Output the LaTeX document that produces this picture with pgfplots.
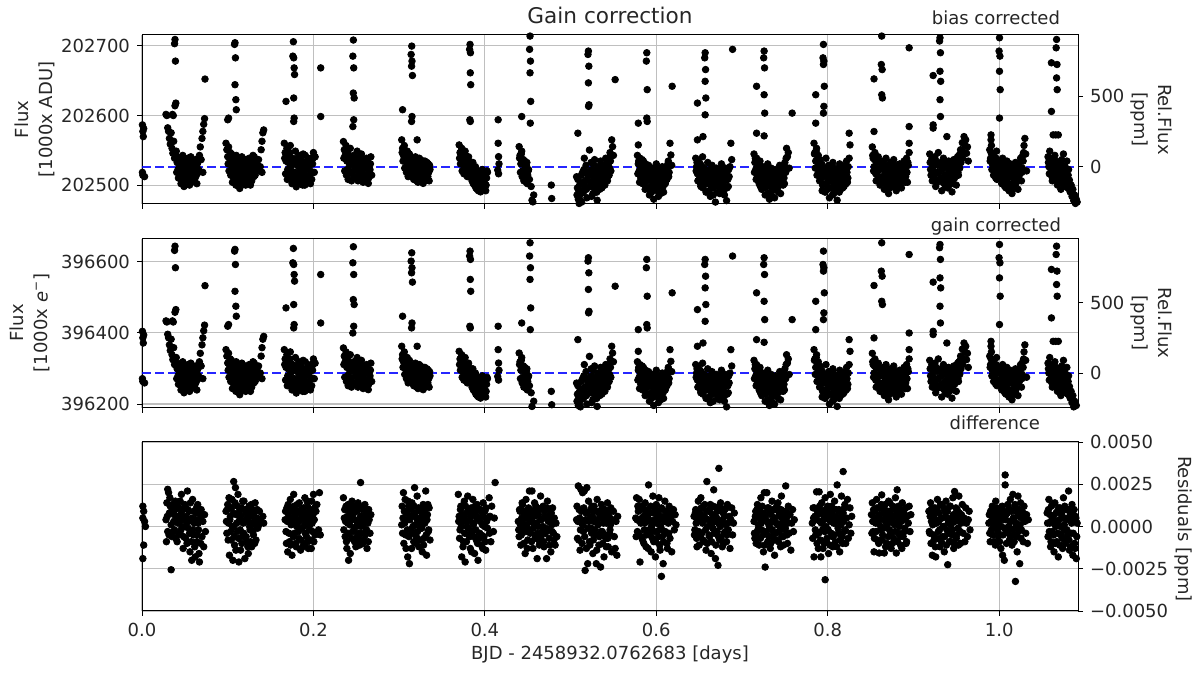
\documentclass[border=0pt]{standalone}
\usepackage{fontspec}
\setmainfont{DejaVu Sans}
\usepackage{pgfplots}
\usepackage{pgfplotstable}
\pgfplotsset{compat=1.18}

% relative flux in ppm (same light curve shown in the two upper panels)
\pgfplotstableread[row sep=\\]{
x y\\
0.0005 296\\ 0.001 250\\ 0.0015 213\\ 0.002 270\\ 0.001 -60\\ 0.003 -70\\ 0.0005 -40\\
0.0385 900\\ 0.0380 870\\ 0.0390 747\\ 0.0395 450\\ 0.0385 431\\ 0.0355 370\\ 0.0365 362\\
0.028 370\\ 0.029 362\\ 0.030 275\\ 0.031 250\\ 0.032 200\\ 0.034 240\\ 0.033 160\\ 0.035 130\\ 0.036 95\\ 0.037 180\\ 0.038 60\\
0.040 110\\ 0.041 30\\ 0.042 -20\\ 0.043 60\\ 0.044 -60\\ 0.045 20\\ 0.046 -100\\ 0.047 40\\ 0.048 -10\\ 0.049 -140\\ 0.050 0\\
0.051 -70\\ 0.052 50\\ 0.053 -30\\ 0.054 -90\\ 0.055 20\\ 0.056 -50\\ 0.057 70\\ 0.058 -110\\ 0.059 10\\ 0.060 -40\\ 0.061 40\\
0.062 -80\\ 0.063 0\\ 0.064 -120\\ 0.065 30\\ 0.066 -20\\ 0.067 80\\ 0.068 140\\ 0.069 50\\ 0.070 200\\ 0.071 250\\ 0.072 300\\
0.073 340\\ 0.0735 620\\ 0.071 -40\\
0.1085 877\\ 0.1080 865\\ 0.1090 770\\ 0.1085 580\\ 0.1095 474\\ 0.1100 403\\ 0.1010 344\\ 0.1000 332\\
0.098 166\\ 0.099 120\\ 0.100 71\\ 0.101 140\\ 0.103 100\\ 0.104 40\\ 0.105 -20\\ 0.106 60\\ 0.107 -80\\ 0.108 10\\ 0.109 -40\\
0.110 80\\ 0.111 -110\\ 0.112 -20\\ 0.113 30\\ 0.114 -154\\ 0.115 -60\\ 0.116 20\\ 0.117 -90\\ 0.118 50\\ 0.119 -30\\ 0.120 0\\
0.121 -130\\ 0.122 40\\ 0.123 -70\\ 0.124 -10\\ 0.125 60\\ 0.126 -50\\ 0.127 10\\ 0.128 -100\\ 0.129 30\\ 0.130 -20\\ 0.131 70\\
0.132 -60\\ 0.134 20\\ 0.135 -30\\ 0.136 50\\ 0.138 0\\ 0.139 120\\ 0.140 180\\ 0.141 240\\ 0.142 260\\ 0.140 -40\\
0.1766 884\\ 0.1760 782\\ 0.1770 770\\ 0.1775 699\\ 0.1780 652\\ 0.1770 486\\ 0.1775 344\\ 0.1770 320\\ 0.1680 462\\
0.166 166\\ 0.167 100\\ 0.168 40\\ 0.169 130\\ 0.170 -20\\ 0.171 70\\ 0.172 -80\\ 0.173 150\\ 0.174 0\\ 0.175 -120\\ 0.176 60\\
0.178 -40\\ 0.179 110\\ 0.180 -142\\ 0.181 20\\ 0.182 -60\\ 0.183 80\\ 0.184 -10\\ 0.185 -100\\ 0.186 40\\ 0.187 -50\\ 0.188 90\\
0.189 -20\\ 0.190 -130\\ 0.191 30\\ 0.192 -70\\ 0.193 10\\ 0.194 -110\\ 0.195 50\\ 0.196 -30\\ 0.197 60\\ 0.198 -90\\ 0.199 20\\
0.200 100\\ 0.201 -40\\ 0.202 70\\ 0.2085 699\\ 0.2085 355\\
0.2466 896\\ 0.2460 782\\ 0.2470 699\\ 0.2465 521\\ 0.2475 486\\ 0.2470 332\\ 0.2460 284\\
0.235 178\\ 0.236 120\\ 0.237 80\\ 0.238 150\\ 0.239 40\\ 0.240 100\\ 0.241 -10\\ 0.242 60\\ 0.243 130\\ 0.244 -40\\ 0.245 20\\
0.247 80\\ 0.248 -70\\ 0.249 30\\ 0.250 -20\\ 0.251 110\\ 0.252 -100\\ 0.253 0\\ 0.254 50\\ 0.255 -60\\ 0.256 90\\ 0.257 -30\\
0.258 -110\\ 0.259 40\\ 0.260 -80\\ 0.261 10\\ 0.262 60\\ 0.263 -50\\ 0.264 -118\\ 0.265 20\\ 0.266 -20\\ 0.267 70\\ 0.268 -60\\
0.3147 853\\ 0.3140 794\\ 0.3150 747\\ 0.3145 711\\ 0.3155 645\\ 0.3150 355\\ 0.3145 320\\ 0.3040 403\\
0.303 190\\ 0.304 130\\ 0.305 80\\ 0.306 150\\ 0.307 50\\ 0.308 100\\ 0.309 10\\ 0.310 60\\ 0.311 -30\\ 0.312 90\\ 0.313 20\\
0.314 -60\\ 0.316 40\\ 0.317 -90\\ 0.318 0\\ 0.319 70\\ 0.320 -40\\ 0.321 190\\ 0.322 -110\\ 0.323 30\\ 0.324 -20\\ 0.325 50\\
0.326 -70\\ 0.327 10\\ 0.328 -118\\ 0.329 -30\\ 0.330 40\\ 0.331 -80\\ 0.332 0\\ 0.333 -50\\ 0.334 20\\ 0.335 -100\\ 0.336 -20\\
0.3827 865\\ 0.3822 830\\ 0.3832 806\\ 0.3830 664\\ 0.3835 580\\ 0.3825 332\\ 0.3830 320\\
0.370 154\\ 0.371 100\\ 0.372 60\\ 0.373 130\\ 0.374 20\\ 0.375 80\\ 0.376 0\\ 0.377 110\\ 0.378 -40\\ 0.379 40\\ 0.380 -20\\
0.381 70\\ 0.382 -70\\ 0.384 10\\ 0.385 -100\\ 0.386 30\\ 0.387 -50\\ 0.388 -130\\ 0.389 0\\ 0.390 -80\\ 0.391 -160\\ 0.392 -30\\
0.393 -110\\ 0.394 -60\\ 0.395 -178\\ 0.396 -90\\ 0.397 -20\\ 0.398 -140\\ 0.399 -60\\ 0.400 -120\\ 0.401 -170\\ 0.402 -80\\
0.403 -40\\ 0.4155 332\\ 0.4155 166\\ 0.4160 71\\ 0.4165 20\\ 0.4150 -24\\ 0.4160 -50\\
0.4527 924\\ 0.4522 830\\ 0.4532 747\\ 0.4527 664\\ 0.4535 462\\ 0.4530 308\\ 0.4430 355\\
0.440 142\\ 0.441 80\\ 0.442 20\\ 0.443 110\\ 0.444 -30\\ 0.445 50\\ 0.446 -80\\ 0.447 0\\ 0.448 -107\\ 0.449 30\\ 0.450 -60\\
0.451 -20\\ 0.452 -90\\ 0.454 -140\\ 0.455 -237\\ 0.456 -249\\ 0.457 -200\\ 0.4775 -130\\ 0.4780 -225\\
0.5208 818\\ 0.5203 794\\ 0.5213 711\\ 0.5208 593\\ 0.5215 438\\ 0.5210 427\\ 0.5085 237\\ 0.552 616\\
0.507 -71\\ 0.508 -150\\ 0.509 -230\\ 0.510 -260\\ 0.511 -200\\ 0.512 -120\\ 0.513 -250\\ 0.514 -40\\ 0.515 -180\\ 0.516 60\\
0.517 -100\\ 0.518 10\\ 0.519 -220\\ 0.520 -60\\ 0.522 118\\ 0.523 -140\\ 0.524 30\\ 0.525 -20\\ 0.526 -190\\ 0.527 -80\\
0.528 50\\ 0.529 -120\\ 0.530 -30\\ 0.531 -237\\ 0.532 0\\ 0.533 -90\\ 0.534 -160\\ 0.535 40\\ 0.536 -50\\ 0.537 -110\\ 0.538 10\\
0.539 -70\\ 0.540 -130\\ 0.541 60\\ 0.542 -20\\ 0.543 -100\\ 0.544 20\\ 0.545 -60\\ 0.546 100\\ 0.547 -30\\ 0.548 190\\ 0.549 142\\
0.550 80\\
0.5889 806\\ 0.5884 747\\ 0.5894 545\\ 0.5889 344\\ 0.5894 320\\ 0.5790 308\\ 0.5790 154\\
0.578 80\\ 0.579 20\\ 0.580 -30\\ 0.581 60\\ 0.582 -80\\ 0.583 0\\ 0.584 -120\\ 0.585 40\\ 0.586 -60\\ 0.587 -160\\ 0.588 -20\\
0.590 -100\\ 0.591 10\\ 0.592 -200\\ 0.593 -50\\ 0.594 -140\\ 0.595 -10\\ 0.596 -90\\ 0.597 -230\\ 0.598 -40\\ 0.599 -120\\
0.600 20\\ 0.601 -170\\ 0.602 -70\\ 0.603 -20\\ 0.604 -110\\ 0.605 -190\\ 0.606 -50\\ 0.607 0\\ 0.608 -140\\ 0.609 -80\\
0.610 -30\\ 0.611 -100\\ 0.612 -60\\ 0.613 -10\\ 0.614 40\\ 0.615 -40\\ 0.616 166\\ 0.617 83\\ 0.618 10\\ 0.6185 569\\
0.6570 806\\ 0.6565 770\\ 0.6575 687\\ 0.6570 604\\ 0.6578 486\\ 0.6570 367\\ 0.6480 450\\ 0.6480 190\\ 0.6545 213\\
0.646 60\\ 0.647 0\\ 0.648 -50\\ 0.649 40\\ 0.650 -90\\ 0.651 20\\ 0.652 -140\\ 0.653 -30\\ 0.654 70\\ 0.655 -100\\ 0.656 -10\\
0.658 -180\\ 0.659 -60\\ 0.660 30\\ 0.661 -120\\ 0.662 -20\\ 0.663 -210\\ 0.664 -70\\ 0.665 10\\ 0.666 -150\\ 0.667 -40\\
0.668 -100\\ 0.669 -250\\ 0.670 -10\\ 0.671 -80\\ 0.672 -130\\ 0.673 -30\\ 0.674 -190\\ 0.675 -60\\ 0.676 20\\ 0.677 -110\\
0.678 -20\\ 0.679 -160\\ 0.680 -50\\ 0.681 -90\\ 0.682 -240\\ 0.683 -30\\ 0.684 -140\\ 0.685 -70\\ 0.686 0\\ 0.687 166\\
0.688 50\\ 0.689 830\\
0.7258 818\\ 0.7253 770\\ 0.7263 699\\ 0.7258 509\\ 0.7265 379\\ 0.7258 218\\ 0.7170 569\\ 0.7170 237\\
0.714 90\\ 0.715 30\\ 0.716 -20\\ 0.717 60\\ 0.718 -70\\ 0.719 10\\ 0.720 -120\\ 0.721 40\\ 0.722 -40\\ 0.723 -160\\ 0.724 0\\
0.726 -90\\ 0.727 -200\\ 0.728 -30\\ 0.729 -130\\ 0.730 20\\ 0.731 -60\\ 0.732 -230\\ 0.733 -100\\ 0.734 -10\\ 0.735 -170\\
0.736 -50\\ 0.737 -120\\ 0.738 -220\\ 0.739 -20\\ 0.740 -80\\ 0.741 -150\\ 0.742 -40\\ 0.743 -110\\ 0.744 10\\ 0.745 -190\\
0.746 -60\\ 0.747 -20\\ 0.748 -130\\ 0.749 -80\\ 0.750 30\\ 0.751 -40\\ 0.752 130\\ 0.753 71\\ 0.754 100\\ 0.755 -10\\ 0.7585 379\\
0.7950 865\\ 0.7945 770\\ 0.7955 747\\ 0.7950 723\\ 0.7960 569\\ 0.7955 427\\ 0.7950 379\\ 0.7860 509\\ 0.7860 308\\
0.784 166\\ 0.785 100\\ 0.786 40\\ 0.787 130\\ 0.788 0\\ 0.789 80\\ 0.790 -40\\ 0.791 50\\ 0.792 -90\\ 0.793 20\\ 0.794 -130\\
0.796 -20\\ 0.797 -180\\ 0.798 60\\ 0.799 -60\\ 0.800 -110\\ 0.801 10\\ 0.802 -220\\ 0.803 -40\\ 0.804 -150\\ 0.805 -80\\
0.806 30\\ 0.807 -190\\ 0.808 -10\\ 0.809 -120\\ 0.810 -60\\ 0.811 -237\\ 0.812 -20\\ 0.813 -100\\ 0.814 20\\ 0.815 -160\\
0.816 -50\\ 0.817 -90\\ 0.818 0\\ 0.819 -140\\ 0.820 -30\\ 0.821 -70\\ 0.822 40\\ 0.823 -110\\ 0.824 0\\ 0.825 237\\ 0.826 154\\
0.825 60\\
0.8630 924\\ 0.8625 723\\ 0.8635 687\\ 0.8630 509\\ 0.8638 486\\ 0.8540 621\\ 0.8540 249\\ 0.8950 841\\ 0.8950 284\\ 0.8950 166\\
0.852 140\\ 0.853 60\\ 0.854 0\\ 0.855 100\\ 0.856 -50\\ 0.857 30\\ 0.858 -90\\ 0.859 70\\ 0.860 -20\\ 0.861 -130\\ 0.862 20\\
0.864 -70\\ 0.865 40\\ 0.866 -160\\ 0.867 -30\\ 0.868 60\\ 0.869 -110\\ 0.870 0\\ 0.871 -190\\ 0.872 -50\\ 0.873 30\\ 0.874 -140\\
0.875 -10\\ 0.876 -80\\ 0.877 50\\ 0.878 -120\\ 0.879 -30\\ 0.880 -170\\ 0.881 10\\ 0.882 -60\\ 0.883 -100\\ 0.884 20\\
0.885 -40\\ 0.886 -150\\ 0.887 0\\ 0.888 -90\\ 0.889 40\\ 0.890 -20\\ 0.891 -70\\ 0.892 60\\ 0.893 -110\\ 0.894 10\\ 0.895 100\\
0.9310 912\\ 0.9305 889\\ 0.9315 806\\ 0.9310 675\\ 0.9318 604\\ 0.9310 474\\ 0.9315 355\\ 0.9230 645\\ 0.9230 296\\ 0.9230 273\\ 0.9390 213\\
0.919 90\\ 0.920 -20\\ 0.921 40\\ 0.922 -100\\ 0.923 0\\ 0.924 -60\\ 0.925 70\\ 0.926 -140\\ 0.927 20\\ 0.928 -40\\ 0.929 100\\
0.930 -90\\ 0.932 30\\ 0.933 -170\\ 0.934 -10\\ 0.935 60\\ 0.936 -120\\ 0.937 10\\ 0.938 -60\\ 0.940 -150\\ 0.941 40\\ 0.942 -30\\
0.943 -100\\ 0.944 20\\ 0.945 -178\\ 0.946 -50\\ 0.947 50\\ 0.948 -80\\ 0.949 0\\ 0.950 -130\\ 0.951 30\\ 0.952 -40\\ 0.953 80\\
0.954 -10\\ 0.955 120\\ 0.956 60\\ 0.957 170\\ 0.958 100\\ 0.959 213\\ 0.960 150\\ 0.961 190\\ 0.962 95\\ 0.963 140\\ 0.964 40\\
1.0004 912\\ 0.9999 818\\ 1.0009 782\\ 1.0004 675\\ 1.0012 545\\ 1.0004 344\\ 0.9905 225\\ 0.9905 190\\
0.989 120\\ 0.990 60\\ 0.991 150\\ 0.992 20\\ 0.993 90\\ 0.994 -30\\ 0.995 50\\ 0.996 -80\\ 0.997 110\\ 0.998 0\\ 0.999 -50\\
1.002 30\\ 1.003 -120\\ 1.004 60\\ 1.005 -20\\ 1.006 -90\\ 1.007 10\\ 1.008 -150\\ 1.009 40\\ 1.010 -60\\ 1.011 -10\\ 1.012 -130\\
1.013 20\\ 1.014 -70\\ 1.015 -190\\ 1.016 0\\ 1.017 -40\\ 1.018 -110\\ 1.019 30\\ 1.020 -80\\ 1.021 -20\\ 1.022 -160\\ 1.023 10\\
1.024 -50\\ 1.025 60\\ 1.026 -100\\ 1.027 -10\\ 1.028 40\\ 1.029 150\\ 1.030 200\\ 1.031 90\\ 1.032 -30\\
1.0670 900\\ 1.0665 841\\ 1.0675 723\\ 1.0670 628\\ 1.0677 545\\ 1.0610 735\\ 1.0610 391\\ 1.0630 225\\ 1.0660 225\\ 1.0690 225\\
1.057 70\\ 1.058 0\\ 1.059 110\\ 1.060 -40\\ 1.061 40\\ 1.062 -100\\ 1.063 20\\ 1.064 -60\\ 1.065 80\\ 1.066 -20\\ 1.068 -130\\
1.069 30\\ 1.070 -70\\ 1.071 10\\ 1.072 -160\\ 1.073 50\\ 1.074 -40\\ 1.075 90\\ 1.076 -100\\ 1.077 0\\ 1.078 -60\\ 1.079 40\\
1.080 -150\\ 1.081 -20\\ 1.082 -95\\ 1.083 -180\\ 1.084 -130\\ 1.085 -210\\ 1.086 -160\\ 1.087 -240\\ 1.088 -200\\ 1.089 -260\\
1.090 -230\\ 1.091 -250\\
}\fluxdata

% further points of the dense bulk of each orbit (ppm)
\pgfplotstableread[row sep=\\]{
x y\\
0.0405 -40\\ 0.0415 70\\ 0.0425 -80\\ 0.0435 10\\ 0.0445 50\\ 0.0455 -120\\ 0.0465 -20\\ 0.0475 80\\ 0.0485 -60\\ 0.0495 30\\
0.0505 -100\\ 0.0515 10\\ 0.0525 -50\\ 0.0535 60\\ 0.0545 -10\\ 0.0555 -130\\ 0.0565 30\\ 0.0575 -70\\ 0.0585 40\\ 0.0595 -20\\
0.0605 -90\\ 0.0615 0\\ 0.0625 50\\ 0.0635 -60\\ 0.0645 20\\ 0.0655 -40\\
0.1005 20\\ 0.1015 -30\\ 0.1025 50\\ 0.1035 -60\\ 0.1045 90\\ 0.1055 -110\\ 0.1065 0\\ 0.1075 40\\ 0.1095 -130\\ 0.1105 20\\
0.1115 60\\ 0.1125 -80\\ 0.1135 -10\\ 0.1145 30\\ 0.1155 -120\\ 0.1165 70\\ 0.1175 -40\\ 0.1185 10\\ 0.1195 -80\\ 0.1205 50\\
0.1215 -20\\ 0.1225 -100\\ 0.1235 20\\ 0.1245 -60\\ 0.1255 0\\ 0.1265 -130\\ 0.1275 40\\ 0.1285 -30\\ 0.1295 80\\ 0.1305 -70\\
0.1315 0\\ 0.1325 40\\ 0.1335 -10\\
0.1665 60\\ 0.1675 -50\\ 0.1685 90\\ 0.1695 -90\\ 0.1705 30\\ 0.1715 -30\\ 0.1725 100\\ 0.1735 -60\\ 0.1745 40\\ 0.1755 -100\\
0.1785 20\\ 0.1795 -80\\ 0.1805 50\\ 0.1815 -120\\ 0.1825 0\\ 0.1835 -40\\ 0.1845 60\\ 0.1855 -90\\ 0.1865 10\\ 0.1875 -130\\
0.1885 30\\ 0.1895 -50\\ 0.1905 80\\ 0.1915 -90\\ 0.1925 -10\\ 0.1935 40\\ 0.1945 -70\\ 0.1955 10\\ 0.1965 -120\\ 0.1975 30\\
0.1985 -40\\ 0.1995 60\\
0.2355 60\\ 0.2365 -30\\ 0.2375 110\\ 0.2385 -60\\ 0.2395 80\\ 0.2405 -90\\ 0.2415 30\\ 0.2425 -50\\ 0.2435 70\\ 0.2445 -100\\
0.2455 40\\ 0.2485 -20\\ 0.2495 60\\ 0.2505 -80\\ 0.2515 10\\ 0.2525 -40\\ 0.2535 70\\ 0.2545 -90\\ 0.2555 0\\ 0.2565 -50\\
0.2575 30\\ 0.2585 -10\\ 0.2595 -100\\ 0.2605 50\\ 0.2615 -60\\ 0.2625 0\\ 0.2635 30\\ 0.2645 -80\\ 0.2655 -30\\ 0.2665 20\\
0.3035 100\\ 0.3045 40\\ 0.3055 130\\ 0.3065 -10\\ 0.3075 70\\ 0.3085 -40\\ 0.3095 110\\ 0.3105 -70\\ 0.3115 30\\ 0.3125 -10\\
0.3135 60\\ 0.3165 -40\\ 0.3175 50\\ 0.3185 -70\\ 0.3195 10\\ 0.3205 -100\\ 0.3215 30\\ 0.3225 -50\\ 0.3235 60\\ 0.3245 -80\\
0.3255 0\\ 0.3265 -30\\ 0.3275 40\\ 0.3285 -60\\ 0.3295 10\\ 0.3305 -100\\ 0.3315 -20\\ 0.3325 30\\ 0.3335 -70\\ 0.3345 -40\\ 0.3355 10\\
0.3705 60\\ 0.3715 20\\ 0.3725 110\\ 0.3735 -30\\ 0.3745 60\\ 0.3755 -50\\ 0.3765 40\\ 0.3775 -10\\ 0.3785 30\\ 0.3795 -70\\
0.3805 50\\ 0.3815 -30\\ 0.3845 -60\\ 0.3855 -10\\ 0.3865 -120\\ 0.3875 -20\\ 0.3885 -70\\ 0.3895 -150\\ 0.3905 -40\\ 0.3915 -100\\
0.3925 -170\\ 0.3935 -60\\ 0.3945 -130\\ 0.3955 -30\\ 0.3965 -150\\ 0.3975 -100\\ 0.3985 -50\\ 0.3995 -160\\ 0.4005 -70\\ 0.4015 -130\\ 0.4025 -30\\
0.4405 60\\ 0.4415 -40\\ 0.4425 90\\ 0.4435 -70\\ 0.4445 20\\ 0.4455 -100\\ 0.4465 40\\ 0.4475 -50\\ 0.4485 10\\ 0.4495 -120\\ 0.4505 -30\\
0.5075 -200\\ 0.5085 -90\\ 0.5095 -170\\ 0.5105 -130\\ 0.5115 -240\\ 0.5125 -60\\ 0.5135 -170\\ 0.5145 -110\\ 0.5155 -20\\ 0.5165 -130\\
0.5175 -40\\ 0.5185 -160\\ 0.5195 -90\\ 0.5225 -30\\ 0.5235 -110\\ 0.5245 -210\\ 0.5255 -60\\ 0.5265 20\\ 0.5275 -150\\ 0.5285 -40\\
0.5295 -90\\ 0.5305 -180\\ 0.5315 -60\\ 0.5325 -130\\ 0.5335 -20\\ 0.5345 -100\\ 0.5355 -50\\ 0.5365 -150\\ 0.5375 -30\\ 0.5385 -80\\
0.5395 0\\ 0.5405 -100\\ 0.5415 -40\\ 0.5425 30\\ 0.5435 -70\\ 0.5445 60\\ 0.5455 -10\\ 0.5465 40\\
0.5785 -50\\ 0.5795 40\\ 0.5805 -110\\ 0.5815 -10\\ 0.5825 -60\\ 0.5835 50\\ 0.5845 -80\\ 0.5855 -30\\ 0.5865 -120\\ 0.5875 20\\
0.5905 -60\\ 0.5915 -150\\ 0.5925 -90\\ 0.5935 -20\\ 0.5945 -180\\ 0.5955 -70\\ 0.5965 -130\\ 0.5975 -10\\ 0.5985 -160\\ 0.5995 -90\\
0.6005 -50\\ 0.6015 -120\\ 0.6025 -210\\ 0.6035 -80\\ 0.6045 -30\\ 0.6055 -140\\ 0.6065 -100\\ 0.6075 -60\\ 0.6085 -180\\ 0.6095 -20\\
0.6105 -120\\ 0.6115 -50\\ 0.6125 -90\\ 0.6135 20\\ 0.6145 -70\\
0.6465 -30\\ 0.6475 30\\ 0.6485 -100\\ 0.6495 0\\ 0.6505 -50\\ 0.6515 -120\\ 0.6525 10\\ 0.6535 -80\\ 0.6545 -150\\ 0.6555 -40\\
0.6585 -120\\ 0.6595 -30\\ 0.6605 -90\\ 0.6615 -170\\ 0.6625 -60\\ 0.6635 -130\\ 0.6645 -20\\ 0.6655 -100\\ 0.6665 -200\\ 0.6675 -70\\
0.6685 -140\\ 0.6695 -40\\ 0.6705 -110\\ 0.6715 -180\\ 0.6725 -60\\ 0.6735 -100\\ 0.6745 -20\\ 0.6755 -150\\ 0.6765 -80\\ 0.6775 -40\\
0.6785 -120\\ 0.6795 -200\\ 0.6805 -10\\ 0.6815 -60\\ 0.6825 -150\\ 0.6835 -90\\ 0.6845 -20\\
0.7145 -40\\ 0.7155 60\\ 0.7165 -90\\ 0.7175 0\\ 0.7185 -30\\ 0.7195 -80\\ 0.7205 20\\ 0.7215 -140\\ 0.7225 -60\\ 0.7235 -10\\
0.7245 -110\\ 0.7265 -40\\ 0.7275 -150\\ 0.7285 -70\\ 0.7295 -10\\ 0.7305 -190\\ 0.7315 -100\\ 0.7325 -40\\ 0.7335 -140\\ 0.7345 -70\\
0.7355 -210\\ 0.7365 -100\\ 0.7375 -30\\ 0.7385 -160\\ 0.7395 -120\\ 0.7405 -50\\ 0.7415 -100\\ 0.7425 -180\\ 0.7435 -60\\ 0.7445 -130\\
0.7455 -20\\ 0.7465 -100\\ 0.7475 -50\\ 0.7485 10\\ 0.7495 -120\\ 0.7505 -20\\ 0.7515 60\\
0.7845 90\\ 0.7855 -10\\ 0.7865 110\\ 0.7875 -60\\ 0.7885 60\\ 0.7895 -20\\ 0.7905 -100\\ 0.7915 10\\ 0.7925 -50\\ 0.7935 -170\\
0.7965 -70\\ 0.7975 -120\\ 0.7985 -10\\ 0.7995 -160\\ 0.8005 -40\\ 0.8015 -90\\ 0.8025 -150\\ 0.8035 -10\\ 0.8045 -100\\ 0.8055 -200\\
0.8065 -60\\ 0.8075 -130\\ 0.8085 -30\\ 0.8095 -170\\ 0.8105 -90\\ 0.8115 -140\\ 0.8125 -50\\ 0.8135 -180\\ 0.8145 -70\\ 0.8155 -110\\
0.8165 -20\\ 0.8175 -150\\ 0.8185 -60\\ 0.8195 -100\\ 0.8205 10\\ 0.8215 -120\\ 0.8225 -40\\ 0.8235 -80\\
0.8525 80\\ 0.8535 -30\\ 0.8545 50\\ 0.8555 -10\\ 0.8565 -100\\ 0.8575 60\\ 0.8585 -30\\ 0.8595 -70\\ 0.8605 40\\ 0.8615 -100\\
0.8645 -20\\ 0.8655 -110\\ 0.8665 -60\\ 0.8675 10\\ 0.8685 -130\\ 0.8695 -50\\ 0.8705 -90\\ 0.8715 -20\\ 0.8725 -150\\ 0.8735 -70\\
0.8745 -30\\ 0.8755 -120\\ 0.8765 10\\ 0.8775 -90\\ 0.8785 -50\\ 0.8795 -150\\ 0.8805 -20\\ 0.8815 -90\\ 0.8825 -40\\ 0.8835 -130\\
0.8845 -60\\ 0.8855 -10\\ 0.8865 -100\\ 0.8875 -60\\ 0.8885 20\\ 0.8895 -50\\ 0.8905 -110\\ 0.8915 0\\ 0.8925 -40\\ 0.8935 30\\
0.9195 30\\ 0.9205 -60\\ 0.9215 60\\ 0.9225 -30\\ 0.9235 -90\\ 0.9245 20\\ 0.9255 -50\\ 0.9265 40\\ 0.9275 -110\\ 0.9285 10\\
0.9295 -40\\ 0.9325 -80\\ 0.9335 -20\\ 0.9345 -110\\ 0.9355 10\\ 0.9365 -60\\ 0.9375 -140\\ 0.9385 30\\ 0.9395 -90\\ 0.9405 -20\\
0.9415 -130\\ 0.9425 -50\\ 0.9435 10\\ 0.9445 -90\\ 0.9455 -30\\ 0.9465 -120\\ 0.9475 -10\\ 0.9485 30\\ 0.9495 -60\\ 0.9505 -20\\
0.9515 70\\ 0.9525 -60\\ 0.9535 20\\ 0.9545 90\\ 0.9555 30\\ 0.9565 110\\ 0.9575 60\\
0.9895 40\\ 0.9905 100\\ 0.9915 -20\\ 0.9925 70\\ 0.9935 -60\\ 0.9945 30\\ 0.9955 -10\\ 0.9965 60\\ 0.9975 -90\\ 0.9985 40\\
1.0015 -60\\ 1.0025 -10\\ 1.0035 -100\\ 1.0045 -40\\ 1.0055 20\\ 1.0065 -140\\ 1.0075 -60\\ 1.0085 -10\\ 1.0095 -110\\ 1.0105 -30\\
1.0115 -170\\ 1.0125 -70\\ 1.0135 -20\\ 1.0145 -120\\ 1.0155 -50\\ 1.0165 -150\\ 1.0175 -80\\ 1.0185 -10\\ 1.0195 -120\\ 1.0205 -40\\
1.0215 -90\\ 1.0225 20\\ 1.0235 -60\\ 1.0245 -20\\ 1.0255 40\\ 1.0265 -40\\ 1.0275 80\\ 1.0285 100\\
1.0575 30\\ 1.0585 -50\\ 1.0595 60\\ 1.0605 -10\\ 1.0615 -70\\ 1.0625 50\\ 1.0635 -30\\ 1.0645 10\\ 1.0655 -90\\ 1.0665 40\\
1.0685 -60\\ 1.0695 -10\\ 1.0705 -110\\ 1.0715 -30\\ 1.0725 20\\ 1.0735 -80\\ 1.0745 -120\\ 1.0755 0\\ 1.0765 -50\\ 1.0775 -140\\
1.0785 -20\\ 1.0795 -90\\ 1.0805 -60\\ 1.0815 -130\\ 1.0825 -170\\
}\fluxextra

% residuals in units of 1e-3
\pgfplotstableread[row sep=\\]{
x r\\
0.001 1.2\\ 0.002 0.9\\ 0.001 0.5\\ 0.003 0.3\\ 0.002 -1.1\\ 0.001 -1.9\\ 0.004 0.0\\
0.028 0.4\\ 0.029 1.4\\ 0.030 2.2\\ 0.031 2.0\\ 0.030 -0.3\\ 0.032 0.8\\ 0.033 1.2\\ 0.034 -2.56\\ 0.034 0.1\\ 0.035 -0.6\\
0.036 1.0\\ 0.037 0.3\\ 0.038 -0.2\\ 0.039 1.5\\ 0.040 0.6\\ 0.041 -0.9\\ 0.042 0.2\\ 0.043 1.1\\ 0.044 -0.4\\ 0.045 0.7\\
0.046 1.9\\ 0.047 0.0\\ 0.048 -1.3\\ 0.049 0.5\\ 0.050 1.3\\ 0.051 -0.7\\ 0.052 0.3\\ 0.053 2.1\\ 0.054 -0.1\\ 0.055 0.9\\
0.056 -1.5\\ 0.057 0.4\\ 0.058 -2.0\\ 0.059 1.6\\ 0.060 -0.5\\ 0.061 0.2\\ 0.062 -1.8\\ 0.063 0.8\\ 0.064 -0.9\\ 0.065 1.3\\
0.066 -0.2\\ 0.067 -2.1\\ 0.068 0.5\\ 0.069 1.0\\ 0.070 -0.6\\ 0.071 0.3\\ 0.072 -1.2\\ 0.073 0.7\\ 0.074 -0.3\\
0.098 0.9\\ 0.099 -0.4\\ 0.100 1.3\\ 0.101 0.2\\ 0.102 -1.7\\ 0.103 0.6\\ 0.104 -0.8\\ 0.105 1.6\\ 0.106 -2.0\\ 0.107 2.66\\
0.107 0.0\\ 0.108 -1.1\\ 0.109 2.3\\ 0.110 0.7\\ 0.111 -0.3\\ 0.112 1.9\\ 0.113 -2.1\\ 0.114 0.4\\ 0.115 -1.4\\ 0.116 1.1\\
0.117 -0.6\\ 0.118 0.2\\ 0.119 1.5\\ 0.120 -1.9\\ 0.121 0.8\\ 0.122 -0.9\\ 0.123 0.3\\ 0.124 -1.6\\ 0.125 1.2\\ 0.126 -0.2\\
0.127 0.6\\ 0.128 -1.2\\ 0.129 1.0\\ 0.130 -0.5\\ 0.131 0.1\\ 0.132 1.4\\ 0.133 -0.8\\ 0.134 0.5\\ 0.135 -0.1\\ 0.137 0.9\\
0.139 0.3\\ 0.141 0.6\\ 0.142 0.2\\
0.167 0.4\\ 0.168 -0.3\\ 0.169 1.1\\ 0.170 -1.5\\ 0.171 0.7\\ 0.172 -0.9\\ 0.173 1.6\\ 0.174 0.1\\ 0.175 -1.7\\ 0.176 0.9\\
0.177 1.9\\ 0.178 -0.4\\ 0.179 0.5\\ 0.180 -1.2\\ 0.181 1.3\\ 0.182 0.2\\ 0.183 -0.7\\ 0.184 0.8\\ 0.185 -1.4\\ 0.186 1.0\\
0.187 -0.1\\ 0.188 0.6\\ 0.189 -1.0\\ 0.190 1.7\\ 0.191 0.3\\ 0.192 -0.6\\ 0.193 1.2\\ 0.194 -1.3\\ 0.195 0.0\\ 0.196 0.7\\
0.197 -0.8\\ 0.198 1.5\\ 0.199 -0.3\\ 0.200 1.9\\ 0.201 0.4\\ 0.202 -0.5\\ 0.203 0.9\\ 0.204 1.3\\ 0.206 -0.2\\ 0.207 2.0\\ 0.208 -0.5\\
0.235 1.7\\ 0.236 0.5\\ 0.237 -0.6\\ 0.238 1.2\\ 0.239 -1.3\\ 0.240 0.2\\ 0.241 -2.0\\ 0.242 0.9\\ 0.243 -1.6\\ 0.244 0.4\\
0.245 1.5\\ 0.246 -0.3\\ 0.247 0.8\\ 0.248 -0.9\\ 0.249 1.1\\ 0.250 0.0\\ 0.251 -0.6\\ 0.252 1.4\\ 0.253 0.3\\ 0.254 -1.1\\
0.255 2.6\\ 0.255 0.6\\ 0.256 -0.4\\ 0.257 1.0\\ 0.258 0.1\\ 0.259 -0.8\\ 0.260 1.3\\ 0.261 0.5\\ 0.262 -0.2\\ 0.263 0.9\\
0.264 -0.9\\ 0.265 0.4\\ 0.266 -0.4\\ 0.267 0.7\\
0.303 0.1\\ 0.304 -0.4\\ 0.305 2.0\\ 0.306 0.9\\ 0.307 1.6\\ 0.308 -1.3\\ 0.309 0.4\\ 0.310 -1.8\\ 0.311 1.2\\ 0.312 -2.2\\
0.313 0.6\\ 0.314 -0.2\\ 0.315 1.4\\ 0.316 0.0\\ 0.317 -0.9\\ 0.318 2.3\\ 0.319 0.8\\ 0.320 -0.6\\ 0.321 1.8\\ 0.322 0.3\\
0.323 -1.2\\ 0.324 1.0\\ 0.325 -0.1\\ 0.326 0.5\\ 0.327 -1.5\\ 0.328 1.3\\ 0.329 -0.7\\ 0.330 0.2\\ 0.331 2.1\\ 0.332 -1.7\\
0.333 0.7\\ 0.334 -0.3\\ 0.335 1.1\\ 0.336 -0.8\\
0.369 1.9\\ 0.370 0.6\\ 0.371 -0.2\\ 0.372 1.2\\ 0.373 -1.8\\ 0.374 0.3\\ 0.375 -0.9\\ 0.376 1.5\\ 0.377 -2.1\\ 0.378 0.8\\
0.379 0.0\\ 0.380 1.8\\ 0.381 -0.5\\ 0.382 0.4\\ 0.383 -1.3\\ 0.384 1.1\\ 0.385 -0.3\\ 0.386 1.6\\ 0.387 0.2\\ 0.388 -1.6\\
0.389 0.7\\ 0.390 -0.8\\ 0.391 1.3\\ 0.392 -2.0\\ 0.393 0.5\\ 0.394 -0.4\\ 0.395 1.0\\ 0.396 -1.1\\ 0.397 0.1\\ 0.398 1.4\\
0.399 -0.6\\ 0.400 0.9\\ 0.401 -1.4\\ 0.402 0.3\\ 0.403 -0.1\\ 0.405 1.7\\ 0.406 0.6\\ 0.407 -0.9\\ 0.408 1.2\\ 0.410 -0.3\\
0.411 0.5\\ 0.412 2.6\\
0.439 0.3\\ 0.440 -0.6\\ 0.441 0.9\\ 0.442 -1.1\\ 0.443 0.5\\ 0.444 1.3\\ 0.445 -0.2\\ 0.446 0.7\\ 0.447 -1.6\\ 0.448 1.6\\
0.449 0.1\\ 0.450 -0.8\\ 0.451 1.1\\ 0.452 2.1\\ 0.453 -0.4\\ 0.454 0.6\\ 0.455 2.1\\ 0.456 -1.3\\ 0.457 0.2\\ 0.458 1.4\\
0.459 -0.5\\ 0.460 0.8\\ 0.461 -1.9\\ 0.462 0.0\\ 0.463 1.0\\ 0.464 -0.9\\ 0.465 1.8\\ 0.466 0.4\\ 0.467 -0.3\\ 0.468 1.2\\
0.469 -1.2\\ 0.470 0.6\\ 0.471 -0.1\\ 0.472 -1.9\\ 0.473 1.5\\ 0.474 0.3\\ 0.475 -0.7\\ 0.476 0.9\\ 0.477 -1.5\\ 0.478 0.1\\
0.479 1.1\\ 0.480 -0.4\\ 0.481 0.5\\ 0.482 -1.1\\ 0.483 0.2\\ 0.484 -0.6\\
0.507 0.4\\ 0.508 -0.7\\ 0.509 2.4\\ 0.510 1.0\\ 0.511 -1.4\\ 0.512 2.2\\ 0.513 0.2\\ 0.514 2.0\\ 0.515 -0.3\\ 0.516 2.1\\
0.517 -2.6\\ 0.518 0.8\\ 0.519 2.3\\ 0.520 -2.2\\ 0.521 1.5\\ 0.522 -0.9\\ 0.523 0.5\\ 0.524 -0.1\\ 0.525 1.2\\ 0.526 -1.6\\
0.527 0.3\\ 0.528 0.9\\ 0.529 -0.5\\ 0.530 -2.2\\ 0.531 1.6\\ 0.532 0.1\\ 0.533 -1.1\\ 0.534 0.7\\ 0.535 -2.4\\ 0.536 1.3\\
0.537 -0.3\\ 0.538 0.5\\ 0.539 -1.8\\ 0.540 1.0\\ 0.541 -0.7\\ 0.542 0.2\\ 0.543 1.4\\ 0.544 -1.2\\ 0.545 0.6\\ 0.546 -0.2\\
0.547 1.1\\ 0.548 -1.5\\ 0.549 0.4\\ 0.550 0.9\\ 0.551 -0.6\\ 0.552 -1.3\\ 0.553 0.3\\ 0.554 -1.7\\ 0.555 0.6\\
0.576 0.5\\ 0.577 1.7\\ 0.578 -0.3\\ 0.579 0.9\\ 0.580 1.6\\ 0.581 -2.1\\ 0.582 0.2\\ 0.583 1.2\\ 0.584 -0.8\\ 0.585 0.6\\
0.586 -0.2\\ 0.587 1.4\\ 0.588 -1.2\\ 0.589 0.3\\ 0.590 1.0\\ 0.591 2.46\\ 0.592 -0.5\\ 0.593 0.8\\ 0.594 -1.5\\ 0.595 0.1\\
0.596 1.8\\ 0.597 -0.9\\ 0.598 0.4\\ 0.599 -1.8\\ 0.600 1.3\\ 0.601 -0.3\\ 0.602 0.7\\ 0.603 1.7\\ 0.604 -1.1\\ 0.605 0.0\\
0.606 -2.95\\ 0.606 1.1\\ 0.607 -0.6\\ 0.608 -2.2\\ 0.609 0.5\\ 0.610 1.5\\ 0.611 -0.4\\ 0.612 0.9\\ 0.613 -1.3\\ 0.614 0.2\\
0.615 1.2\\ 0.616 -0.7\\ 0.617 0.6\\ 0.618 -1.5\\ 0.619 0.3\\ 0.620 1.0\\ 0.621 -0.2\\ 0.622 0.7\\ 0.623 0.1\\
0.644 0.6\\ 0.645 -0.2\\ 0.646 1.0\\ 0.647 -0.7\\ 0.648 0.3\\ 0.649 1.5\\ 0.650 -1.1\\ 0.651 0.8\\ 0.652 1.7\\ 0.653 -0.4\\
0.654 0.2\\ 0.655 1.2\\ 0.656 -0.9\\ 0.657 0.5\\ 0.658 -1.4\\ 0.659 2.66\\ 0.660 0.0\\ 0.661 0.9\\ 0.662 -0.6\\ 0.663 1.3\\
0.664 -1.6\\ 0.665 0.4\\ 0.666 -0.1\\ 0.667 2.17\\ 0.668 0.7\\ 0.669 -1.9\\ 0.670 1.1\\ 0.671 -0.3\\ 0.672 -2.3\\ 0.673 3.44\\
0.673 0.2\\ 0.674 -0.8\\ 0.675 1.4\\ 0.676 0.3\\ 0.677 -1.2\\ 0.678 0.8\\ 0.679 -0.4\\ 0.680 1.0\\ 0.681 0.1\\ 0.682 -0.9\\
0.683 1.3\\ 0.684 -0.2\\ 0.685 0.6\\ 0.686 -1.3\\ 0.687 0.4\\ 0.688 1.1\\ 0.689 -0.5\\ 0.690 0.2\\ 0.691 0.8\\
0.714 0.3\\ 0.715 -0.7\\ 0.716 0.9\\ 0.717 -0.4\\ 0.718 1.3\\ 0.719 0.1\\ 0.720 -1.1\\ 0.721 0.6\\ 0.722 1.7\\ 0.723 -0.2\\
0.724 0.8\\ 0.725 -1.5\\ 0.726 2.0\\ 0.727 -2.4\\ 0.728 0.4\\ 0.729 2.0\\ 0.730 -0.9\\ 0.731 1.1\\ 0.732 0.0\\ 0.733 -1.3\\
0.734 0.7\\ 0.735 1.5\\ 0.736 -0.5\\ 0.737 0.3\\ 0.738 -1.7\\ 0.739 1.0\\ 0.740 0.2\\ 0.741 -0.8\\ 0.742 1.4\\ 0.743 -0.3\\
0.744 0.6\\ 0.745 -1.2\\ 0.746 1.8\\ 0.747 0.1\\ 0.748 -0.6\\ 0.749 0.9\\ 0.750 -0.2\\ 0.751 2.4\\ 0.752 0.5\\ 0.753 -1.0\\
0.754 1.2\\ 0.755 -0.4\\ 0.756 0.7\\ 0.757 -1.4\\ 0.758 0.2\\ 0.759 1.0\\ 0.760 -0.3\\ 0.761 0.4\\
0.782 0.2\\ 0.783 1.1\\ 0.784 -1.8\\ 0.785 0.6\\ 0.786 -0.5\\ 0.787 2.05\\ 0.788 0.9\\ 0.789 -1.3\\ 0.790 2.05\\ 0.791 0.3\\
0.792 -1.8\\ 0.793 1.4\\ 0.794 -0.2\\ 0.795 0.7\\ 0.796 -1.0\\ 0.797 -3.15\\ 0.797 1.7\\ 0.798 0.0\\ 0.799 -0.7\\ 0.800 1.2\\
0.801 -1.6\\ 0.802 0.4\\ 0.803 1.9\\ 0.804 -0.4\\ 0.805 0.9\\ 0.806 -1.2\\ 0.807 0.2\\ 0.808 1.5\\ 0.809 -0.9\\ 0.810 0.6\\
0.811 2.46\\ 0.812 -0.1\\ 0.813 1.0\\ 0.814 -1.5\\ 0.815 0.3\\ 0.816 1.8\\ 0.817 -0.6\\ 0.818 3.25\\ 0.818 0.8\\ 0.819 -0.3\\
0.820 1.3\\ 0.821 -1.0\\ 0.822 0.5\\ 0.823 1.6\\ 0.824 -0.7\\ 0.825 0.1\\ 0.826 1.1\\ 0.827 -0.4\\ 0.828 0.6\\
0.851 0.7\\ 0.852 1.4\\ 0.853 -0.3\\ 0.854 -1.5\\ 0.855 0.9\\ 0.856 0.2\\ 0.857 1.6\\ 0.858 -0.8\\ 0.859 0.5\\ 0.860 -1.57\\
0.861 1.1\\ 0.862 0.0\\ 0.863 1.87\\ 0.864 -0.5\\ 0.865 0.8\\ 0.866 -1.57\\ 0.867 1.3\\ 0.868 0.3\\ 0.869 -1.0\\ 0.870 0.6\\
0.871 1.5\\ 0.872 -0.2\\ 0.873 0.9\\ 0.874 -1.3\\ 0.875 0.4\\ 0.876 1.2\\ 0.877 -0.7\\ 0.878 0.1\\ 0.879 1.7\\ 0.880 -1.57\\
0.881 2.17\\ 0.882 0.5\\ 0.883 -0.4\\ 0.884 1.0\\ 0.885 -1.1\\ 0.886 0.3\\ 0.887 1.4\\ 0.888 -0.6\\ 0.889 0.8\\ 0.890 -0.1\\
0.891 1.1\\ 0.892 -0.9\\ 0.893 0.6\\ 0.894 0.2\\ 0.895 1.2\\ 0.896 -0.3\\ 0.897 0.7\\
0.918 0.9\\ 0.919 -0.4\\ 0.920 1.4\\ 0.921 0.3\\ 0.922 -1.7\\ 0.923 0.6\\ 0.924 -0.8\\ 0.925 1.1\\ 0.926 -1.8\\ 0.927 0.2\\
0.928 1.6\\ 0.929 -0.3\\ 0.930 0.8\\ 0.931 -1.2\\ 0.932 0.5\\ 0.933 1.3\\ 0.934 -0.6\\ 0.935 0.0\\ 0.936 -1.5\\ 0.937 0.9\\
0.938 1.5\\ 0.939 -0.2\\ 0.940 -2.26\\ 0.941 0.4\\ 0.942 -0.9\\ 0.943 1.2\\ 0.944 0.1\\ 0.945 -0.5\\ 0.946 1.7\\ 0.947 -1.3\\
0.948 2.07\\ 0.949 0.6\\ 0.950 -0.7\\ 0.951 1.0\\ 0.952 -0.1\\ 0.953 1.8\\ 0.954 0.3\\ 0.955 -1.0\\ 0.956 0.7\\ 0.957 1.3\\
0.958 -0.4\\ 0.959 0.5\\ 0.960 -0.9\\ 0.961 1.1\\ 0.962 0.2\\ 0.963 -0.6\\ 0.964 0.4\\ 0.965 0.9\\ 0.966 -0.2\\
0.988 0.2\\ 0.989 -0.4\\ 0.990 0.9\\ 0.991 -0.2\\ 0.992 1.2\\ 0.993 0.5\\ 0.994 -0.9\\ 0.995 0.3\\ 0.996 1.5\\ 0.997 -0.1\\
0.998 0.8\\ 0.999 -0.6\\ 1.000 0.1\\ 1.001 1.0\\ 1.002 -1.3\\ 1.003 0.6\\ 1.004 -1.7\\ 1.005 0.4\\ 1.006 -2.0\\ 1.007 3.05\\
1.007 2.46\\ 1.008 0.7\\ 1.009 -0.3\\ 1.010 1.3\\ 1.011 0.0\\ 1.012 -0.8\\ 1.013 1.6\\ 1.014 0.3\\ 1.015 -1.1\\ 1.016 1.9\\
1.017 0.5\\ 1.018 -0.5\\ 1.019 -3.25\\ 1.019 1.1\\ 1.020 0.2\\ 1.021 -1.5\\ 1.022 1.8\\ 1.023 0.6\\ 1.024 -2.2\\ 1.025 1.4\\
1.026 -0.2\\ 1.027 0.9\\ 1.028 -0.9\\ 1.029 1.2\\ 1.030 0.3\\ 1.031 -0.4\\ 1.032 0.7\\ 1.033 -1.0\\ 1.034 0.4\\
1.056 0.8\\ 1.057 -0.6\\ 1.058 1.6\\ 1.059 0.2\\ 1.060 -1.2\\ 1.061 1.2\\ 1.062 -0.3\\ 1.063 0.6\\ 1.064 -1.5\\ 1.065 1.4\\
1.066 0.0\\ 1.067 -0.9\\ 1.068 0.9\\ 1.069 -1.8\\ 1.070 0.4\\ 1.071 1.1\\ 1.072 -0.5\\ 1.073 0.7\\ 1.074 -1.3\\ 1.075 1.7\\
1.076 0.1\\ 1.077 -0.8\\ 1.078 1.0\\ 1.079 -0.2\\ 1.080 0.5\\ 1.081 2.1\\ 1.082 -1.4\\ 1.083 0.8\\ 1.084 -0.4\\ 1.085 1.3\\
1.086 -1.7\\ 1.087 0.3\\ 1.088 -1.0\\ 1.089 0.6\\ 1.090 -1.9\\ 1.091 0.2\\
}\resdata

% further residual points in the dense cores (units of 1e-3)
\pgfplotstableread[row sep=\\]{
x r\\
0.0285 -0.9\\ 0.0295 0.6\\ 0.0315 -0.5\\ 0.0325 1.7\\ 0.0345 0.9\\ 0.0355 1.3\\ 0.0365 -0.3\\ 0.0375 0.7\\ 0.0385 1.0\\ 0.0395 -0.7\\
0.0405 0.3\\ 0.0415 1.2\\ 0.0425 -0.5\\ 0.0435 0.5\\ 0.0445 1.5\\ 0.0455 -0.2\\ 0.0465 0.9\\ 0.0475 0.4\\ 0.0485 -0.6\\ 0.0495 1.1\\
0.0505 0.0\\ 0.0515 0.6\\ 0.0525 -1.0\\ 0.0535 1.0\\ 0.0545 0.3\\ 0.0555 -0.4\\ 0.0565 1.4\\ 0.0575 -0.9\\ 0.0585 0.5\\ 0.0595 -0.2\\
0.0605 0.9\\ 0.0615 -1.2\\ 0.0625 0.4\\ 0.0635 1.1\\ 0.0645 -0.5\\ 0.0655 0.2\\ 0.0665 -1.6\\ 0.0675 0.8\\ 0.0685 -1.0\\
0.0985 0.3\\ 0.0995 1.0\\ 0.1005 -0.8\\ 0.1015 1.7\\ 0.1025 0.4\\ 0.1035 -0.3\\ 0.1045 1.1\\ 0.1055 0.0\\ 0.1065 0.8\\ 0.1075 -0.6\\
0.1085 1.4\\ 0.1095 -1.4\\ 0.1105 0.2\\ 0.1115 1.2\\ 0.1125 -0.7\\ 0.1135 0.9\\ 0.1145 -0.2\\ 0.1155 0.6\\ 0.1165 -1.0\\ 0.1175 1.5\\
0.1185 -0.4\\ 0.1195 0.3\\ 0.1205 1.0\\ 0.1215 -0.6\\ 0.1225 0.5\\ 0.1235 -1.2\\ 0.1245 0.9\\ 0.1255 0.0\\ 0.1265 -0.9\\ 0.1275 1.3\\
0.1285 0.2\\ 0.1295 -0.3\\ 0.1305 0.8\\ 0.1315 -1.0\\ 0.1325 0.4\\ 0.1345 1.0\\ 0.1365 0.1\\
0.1675 0.9\\ 0.1685 -1.0\\ 0.1695 0.3\\ 0.1705 1.3\\ 0.1715 -0.4\\ 0.1725 0.5\\ 0.1735 -1.1\\ 0.1745 1.1\\ 0.1755 0.2\\ 0.1765 -0.6\\
0.1775 1.2\\ 0.1785 0.7\\ 0.1795 -1.0\\ 0.1805 0.0\\ 0.1815 0.9\\ 0.1825 -0.3\\ 0.1835 1.4\\ 0.1845 0.4\\ 0.1855 -0.8\\ 0.1865 0.6\\
0.1875 -1.2\\ 0.1885 1.1\\ 0.1895 0.1\\ 0.1905 -0.4\\ 0.1915 0.8\\ 0.1925 1.5\\ 0.1935 -0.9\\ 0.1945 0.5\\ 0.1955 -0.2\\ 0.1965 1.0\\
0.1975 -1.3\\ 0.1985 0.2\\ 0.1995 0.7\\ 0.2005 -0.9\\ 0.2015 1.1\\
0.2355 -0.2\\ 0.2365 1.0\\ 0.2375 0.3\\ 0.2385 -0.9\\ 0.2395 0.6\\ 0.2405 1.3\\ 0.2415 -0.4\\ 0.2425 0.1\\ 0.2435 1.0\\ 0.2445 -0.7\\
0.2455 0.7\\ 0.2465 1.2\\ 0.2475 -0.1\\ 0.2485 0.4\\ 0.2495 -1.2\\ 0.2505 0.9\\ 0.2515 0.2\\ 0.2525 -0.4\\ 0.2535 1.1\\ 0.2545 -0.8\\
0.2555 0.0\\ 0.2565 0.6\\ 0.2575 -1.0\\ 0.2585 1.2\\ 0.2595 0.3\\ 0.2605 -0.5\\ 0.2615 0.8\\ 0.2625 -1.3\\ 0.2635 0.2\\ 0.2645 1.0\\
0.3035 1.2\\ 0.3045 0.5\\ 0.3055 -1.0\\ 0.3065 0.2\\ 0.3075 -0.5\\ 0.3085 0.8\\ 0.3095 -0.2\\ 0.3105 1.5\\ 0.3115 -0.6\\ 0.3125 0.4\\
0.3135 1.0\\ 0.3145 -1.3\\ 0.3155 0.6\\ 0.3165 -0.4\\ 0.3175 1.2\\ 0.3185 0.1\\ 0.3195 -1.0\\ 0.3205 0.5\\ 0.3215 -0.3\\ 0.3225 1.1\\
0.3235 0.2\\ 0.3245 -0.8\\ 0.3255 0.9\\ 0.3265 -0.1\\ 0.3275 0.7\\ 0.3285 -1.1\\ 0.3295 0.3\\ 0.3305 1.0\\ 0.3315 -0.5\\ 0.3325 0.4\\
0.3335 1.3\\ 0.3345 -0.2\\
0.3695 0.3\\ 0.3705 -0.7\\ 0.3715 1.0\\ 0.3725 0.0\\ 0.3735 0.7\\ 0.3745 -1.2\\ 0.3755 0.5\\ 0.3765 -0.4\\ 0.3775 1.2\\ 0.3785 -0.9\\
0.3795 0.3\\ 0.3805 -0.1\\ 0.3815 1.0\\ 0.3825 -0.6\\ 0.3835 0.6\\ 0.3845 -1.5\\ 0.3855 0.9\\ 0.3865 0.1\\ 0.3875 -0.6\\ 0.3885 1.2\\
0.3895 -0.2\\ 0.3905 0.5\\ 0.3915 -1.0\\ 0.3925 1.0\\ 0.3935 -0.7\\ 0.3945 0.3\\ 0.3955 -0.5\\ 0.3965 0.8\\ 0.3975 -1.3\\ 0.3985 0.6\\
0.3995 0.0\\ 0.4005 -0.9\\ 0.4015 1.1\\ 0.4035 0.5\\ 0.4055 -0.4\\
0.4395 -0.2\\ 0.4405 1.0\\ 0.4415 0.1\\ 0.4425 -0.5\\ 0.4435 1.4\\ 0.4445 0.2\\ 0.4455 -1.0\\ 0.4465 0.9\\ 0.4475 -0.3\\ 0.4485 0.5\\
0.4495 -1.3\\ 0.4505 0.7\\ 0.4515 -0.2\\ 0.4525 1.0\\ 0.4535 0.3\\ 0.4545 -0.9\\ 0.4555 0.9\\ 0.4565 -0.1\\ 0.4575 0.6\\ 0.4585 -0.7\\
0.4595 1.2\\ 0.4605 0.2\\ 0.4615 -0.4\\ 0.4625 0.7\\ 0.4635 -1.1\\ 0.4645 0.4\\ 0.4655 -0.6\\ 0.4665 1.1\\ 0.4675 0.0\\ 0.4685 -0.9\\
0.4695 0.9\\ 0.4705 -0.4\\ 0.4715 0.5\\ 0.4725 1.1\\ 0.4735 -0.2\\ 0.4745 0.6\\ 0.4755 -1.1\\ 0.4765 0.3\\ 0.4775 0.8\\ 0.4785 -0.3\\
0.4795 0.2\\ 0.4805 -0.8\\
0.5075 1.2\\ 0.5085 0.3\\ 0.5095 -0.8\\ 0.5105 0.5\\ 0.5115 -0.2\\ 0.5125 0.9\\ 0.5135 -1.0\\ 0.5145 0.1\\ 0.5155 1.1\\ 0.5165 -0.6\\
0.5175 0.4\\ 0.5185 -1.3\\ 0.5195 0.8\\ 0.5205 -0.1\\ 0.5215 0.3\\ 0.5225 -1.1\\ 0.5235 1.0\\ 0.5245 -0.4\\ 0.5255 0.6\\ 0.5265 -0.8\\
0.5275 1.2\\ 0.5285 -0.2\\ 0.5295 0.4\\ 0.5305 -1.4\\ 0.5315 0.2\\ 0.5325 0.9\\ 0.5335 -0.6\\ 0.5345 0.5\\ 0.5355 -0.3\\ 0.5365 1.0\\
0.5375 -1.0\\ 0.5385 0.2\\ 0.5395 -0.5\\ 0.5405 0.7\\ 0.5415 -1.2\\ 0.5425 0.4\\ 0.5435 -0.7\\ 0.5445 0.9\\ 0.5455 -0.4\\ 0.5465 0.1\\
0.5765 -0.6\\ 0.5775 0.4\\ 0.5785 1.2\\ 0.5795 -0.4\\ 0.5805 0.3\\ 0.5815 1.0\\ 0.5825 -0.6\\ 0.5835 0.5\\ 0.5845 1.1\\ 0.5855 -1.0\\
0.5865 0.2\\ 0.5875 0.9\\ 0.5885 -0.5\\ 0.5895 0.6\\ 0.5905 -1.3\\ 0.5915 0.4\\ 0.5925 -0.2\\ 0.5935 1.2\\ 0.5945 0.0\\ 0.5955 -0.7\\
0.5965 0.8\\ 0.5975 -0.3\\ 0.5985 1.0\\ 0.5995 -0.9\\ 0.6005 0.2\\ 0.6015 0.9\\ 0.6025 -0.6\\ 0.6035 0.4\\ 0.6045 -1.4\\ 0.6055 0.6\\
0.6065 -0.2\\ 0.6075 1.0\\ 0.6085 -0.9\\ 0.6095 0.3\\ 0.6105 -0.3\\ 0.6115 0.7\\ 0.6125 -1.0\\ 0.6135 0.5\\ 0.6145 -0.4\\ 0.6155 0.8\\
0.6445 -0.5\\ 0.6455 0.8\\ 0.6465 0.2\\ 0.6475 -1.2\\ 0.6485 0.9\\ 0.6495 -0.3\\ 0.6505 0.5\\ 0.6515 -0.6\\ 0.6525 1.1\\ 0.6535 0.3\\
0.6545 -0.8\\ 0.6555 0.6\\ 0.6565 1.3\\ 0.6575 -0.2\\ 0.6585 0.9\\ 0.6595 -1.0\\ 0.6605 0.4\\ 0.6615 -0.5\\ 0.6625 1.0\\ 0.6635 0.1\\
0.6645 -0.9\\ 0.6655 0.7\\ 0.6665 1.2\\ 0.6675 -0.4\\ 0.6685 0.3\\ 0.6695 -1.1\\ 0.6705 0.5\\ 0.6715 0.9\\ 0.6725 -0.6\\ 0.6735 1.2\\
0.6745 0.0\\ 0.6755 -0.7\\ 0.6765 0.9\\ 0.6775 0.4\\ 0.6785 -1.0\\ 0.6795 0.6\\ 0.6805 -0.3\\ 0.6815 1.1\\ 0.6825 -0.5\\ 0.6835 0.2\\
0.7145 -0.4\\ 0.7155 0.6\\ 0.7165 -1.0\\ 0.7175 1.0\\ 0.7185 -0.2\\ 0.7195 0.5\\ 0.7205 0.9\\ 0.7215 -0.7\\ 0.7225 0.2\\ 0.7235 1.2\\
0.7245 -0.5\\ 0.7255 0.4\\ 0.7265 -1.1\\ 0.7275 0.7\\ 0.7285 -0.3\\ 0.7295 1.1\\ 0.7305 0.2\\ 0.7315 -0.6\\ 0.7325 0.9\\ 0.7335 -1.0\\
0.7345 0.3\\ 0.7355 -0.2\\ 0.7365 1.0\\ 0.7375 -0.8\\ 0.7385 0.5\\ 0.7395 -0.4\\ 0.7405 1.2\\ 0.7415 0.1\\ 0.7425 -0.9\\ 0.7435 0.7\\
0.7445 -0.2\\ 0.7455 1.0\\ 0.7465 -0.6\\ 0.7475 0.3\\ 0.7485 -1.1\\ 0.7495 0.6\\ 0.7505 -0.1\\ 0.7515 0.9\\ 0.7525 -0.5\\ 0.7535 0.2\\
0.7825 -0.7\\ 0.7835 0.5\\ 0.7845 1.1\\ 0.7855 -0.2\\ 0.7865 0.4\\ 0.7875 -1.0\\ 0.7885 0.7\\ 0.7895 -0.4\\ 0.7905 1.2\\ 0.7915 -0.8\\
0.7925 0.2\\ 0.7935 0.9\\ 0.7945 -1.3\\ 0.7955 0.4\\ 0.7965 -0.3\\ 0.7975 1.0\\ 0.7985 -0.9\\ 0.7995 0.5\\ 0.8005 -0.2\\ 0.8015 0.8\\
0.8025 -1.1\\ 0.8035 0.3\\ 0.8045 1.2\\ 0.8055 -0.6\\ 0.8065 0.6\\ 0.8075 -0.5\\ 0.8085 0.2\\ 0.8095 1.0\\ 0.8105 -1.2\\ 0.8115 0.4\\
0.8125 -0.4\\ 0.8135 0.9\\ 0.8145 -0.8\\ 0.8155 0.1\\ 0.8165 0.6\\ 0.8175 -1.0\\ 0.8185 0.3\\ 0.8195 1.1\\ 0.8205 -0.2\\
0.8515 -0.4\\ 0.8525 0.3\\ 0.8535 1.0\\ 0.8545 -0.7\\ 0.8555 0.5\\ 0.8565 -0.3\\ 0.8575 1.1\\ 0.8585 0.2\\ 0.8595 -1.0\\ 0.8605 0.7\\
0.8615 -0.2\\ 0.8625 1.3\\ 0.8635 -0.8\\ 0.8645 0.4\\ 0.8655 -0.1\\ 0.8665 1.0\\ 0.8675 -1.2\\ 0.8685 0.6\\ 0.8695 0.1\\ 0.8705 -0.6\\
0.8715 0.9\\ 0.8725 1.4\\ 0.8735 -0.4\\ 0.8745 0.3\\ 0.8755 -1.0\\ 0.8765 0.6\\ 0.8775 1.1\\ 0.8785 -0.3\\ 0.8795 0.2\\ 0.8805 0.8\\
0.8815 -0.9\\ 0.8825 1.2\\ 0.8835 0.0\\ 0.8845 -0.6\\ 0.8855 0.7\\ 0.8865 -1.3\\ 0.8875 0.4\\ 0.8885 1.0\\ 0.8895 -0.3\\ 0.8905 0.5\\
0.8915 -1.0\\
0.9185 -0.3\\ 0.9195 0.6\\ 0.9205 -1.0\\ 0.9215 1.1\\ 0.9225 0.1\\ 0.9235 -0.5\\ 0.9245 0.8\\ 0.9255 -1.2\\ 0.9265 0.4\\ 0.9275 1.0\\
0.9285 -0.7\\ 0.9295 0.3\\ 0.9305 -0.2\\ 0.9315 1.3\\ 0.9325 -0.9\\ 0.9335 0.5\\ 0.9345 0.0\\ 0.9355 1.1\\ 0.9365 -0.6\\ 0.9375 0.6\\
0.9385 -1.1\\ 0.9395 0.9\\ 0.9405 0.2\\ 0.9415 -0.4\\ 0.9425 1.2\\ 0.9435 -0.9\\ 0.9445 0.5\\ 0.9455 -0.2\\ 0.9465 0.7\\ 0.9475 -1.0\\
0.9485 0.3\\ 0.9495 1.1\\ 0.9505 -0.5\\ 0.9515 0.4\\ 0.9525 -1.1\\ 0.9535 0.8\\ 0.9545 -0.3\\ 0.9555 0.2\\
0.9885 0.7\\ 0.9895 -0.9\\ 0.9905 0.3\\ 0.9915 1.0\\ 0.9925 -0.5\\ 0.9935 0.0\\ 0.9945 0.8\\ 0.9955 -1.1\\ 0.9965 0.5\\ 0.9975 1.1\\
0.9985 -0.3\\ 0.9995 0.4\\ 1.0005 -0.9\\ 1.0015 0.6\\ 1.0025 0.0\\ 1.0035 1.2\\ 1.0045 -0.5\\ 1.0055 0.9\\ 1.0065 -0.1\\ 1.0075 0.4\\
1.0085 -1.0\\ 1.0095 0.8\\ 1.0105 -0.4\\ 1.0115 1.1\\ 1.0125 0.3\\ 1.0135 -0.6\\ 1.0145 0.9\\ 1.0155 -0.2\\ 1.0165 0.5\\ 1.0175 -0.9\\
1.0185 1.3\\ 1.0195 0.0\\ 1.0205 -0.6\\ 1.0215 0.8\\ 1.0225 -0.3\\ 1.0235 1.0\\ 1.0245 0.1\\ 1.0255 -0.7\\ 1.0265 0.5\\
1.0565 0.2\\ 1.0575 1.0\\ 1.0585 -0.3\\ 1.0595 0.7\\ 1.0605 -0.9\\ 1.0615 0.4\\ 1.0625 1.3\\ 1.0635 -0.5\\ 1.0645 0.2\\ 1.0655 -1.0\\
1.0665 0.8\\ 1.0675 0.3\\ 1.0685 -0.4\\ 1.0695 1.1\\ 1.0705 -1.1\\ 1.0715 0.0\\ 1.0725 0.9\\ 1.0735 -0.7\\ 1.0745 0.5\\ 1.0755 -0.2\\
1.0765 1.2\\ 1.0775 -1.0\\ 1.0785 0.4\\ 1.0795 -0.5\\ 1.0805 1.0\\ 1.0815 -0.8\\ 1.0825 0.6\\ 1.0835 -1.2\\ 1.0845 0.2\\ 1.0855 0.8\\
1.0865 -0.4\\ 1.0875 1.0\\ 1.0885 -1.3\\ 1.0895 0.5\\ 1.0905 -0.6\\
}\resextra

\pgfplotsset{
  panel/.style={
    scale only axis, width=468pt, height=84.5pt, anchor=south west,
    xmin=0, xmax=1.092, xtick={0,0.2,0.4,0.6,0.8,1.0},
    scaled y ticks=false, scaled x ticks=false,
    tick align=outside, major tick length=2.5pt,
    every tick/.style={black, line width=0.45pt},
    axis line style={line width=0.5pt, black},
    tick label style={font=\fontsize{9}{10}\selectfont, text=black!85},
    major grid style={gray!50, line width=0.55pt},
  },
  pts/.style={only marks, mark=*, mark size=1.65pt, mark options={fill=black, draw=black}},
  zeroline/.style={blue, opacity=0.85, line width=1.2pt, dash pattern=on 4.5pt off 2pt},
}

\newcommand{\lbl}{\fontsize{9}{12}\selectfont\color{black!85}}

\begin{document}
\begin{tikzpicture}
\path[use as bounding box] (0,0) rectangle (601.5pt,336.5pt);

% ---------- top panel ----------
\begin{axis}[panel, at={(71pt,234.5pt)},
  ymin=202473.2, ymax=202715.3,
  ytick={202500,202600,202700}, yticklabels={202500,202600,202700},
  xticklabels={}, grid=major, xtick pos=left, ytick pos=left]
\end{axis}
\begin{axis}[panel, at={(71pt,234.5pt)},
  ymin=-263.7, ymax=931.7, ytick={0,500}, yticklabels={0,500},
  xtick=\empty, ytick pos=right, yticklabel pos=right]
\addplot[pts] table[x=x,y=y] {\fluxdata};
\addplot[pts] table[x=x,y=y] {\fluxextra};
\addplot[zeroline] coordinates {(0,0) (1.092,0)};
\end{axis}

% ---------- middle panel ----------
\begin{axis}[panel, at={(71pt,132.5pt)},
  ymin=396188.7, ymax=396664,
  ytick={396200,396400,396600}, yticklabels={396200,396400,396600},
  xticklabels={}, grid=major, xtick pos=left, ytick pos=left]
\end{axis}
\begin{axis}[panel, at={(71pt,132.5pt)},
  ymin=-248, ymax=951, ytick={0,500}, yticklabels={0,500},
  xtick=\empty, ytick pos=right, yticklabel pos=right]
\addplot[pts] table[x=x,y=y] {\fluxdata};
\addplot[pts] table[x=x,y=y] {\fluxextra};
\addplot[zeroline] coordinates {(0,0) (1.092,0)};
\end{axis}

% ---------- bottom panel ----------
\begin{axis}[panel, at={(71pt,31pt)},
  ymin=-5, ymax=5, ytick={-5,-2.5,0,2.5,5},
  yticklabels={−0.0050,−0.0025,0.0000,0.0025,0.0050},
  xticklabels={0.0,0.2,0.4,0.6,0.8,1.0},
  grid=major, xtick pos=left, ytick pos=right, yticklabel pos=right]
\addplot[pts] table[x=x,y=r] {\resdata};
\addplot[pts] table[x=x,y=r] {\resextra};
\end{axis}

% ---------- texts ----------
\node[anchor=base, font=\fontsize{10.8}{12}\selectfont, text=black!85] at (305pt,324.5pt) {Gain correction};
\node[anchor=base east, font=\lbl] at (533.5pt,324pt) {bias corrected};
\node[anchor=base east, font=\lbl] at (534pt,220.7pt) {gain corrected};
\node[anchor=base east, font=\lbl] at (523.5pt,121.5pt) {difference};

\node[rotate=90, align=center, font=\lbl] at (17.5pt,276.75pt) {Flux\\{}[1000x ADU]};
\node[rotate=90, align=center, font=\lbl] at (15pt,175pt) {Flux\\{}[1000x \textit{e}\textsuperscript{−}]};
\node[rotate=-90, align=center, font=\lbl] at (575.5pt,276.75pt) {Rel.Flux\\{}[ppm]};
\node[rotate=-90, align=center, font=\lbl] at (575.5pt,175pt) {Rel.Flux\\{}[ppm]};
\node[rotate=-90, font=\lbl] at (591.5pt,72pt) {Residuals [ppm]};
\node[anchor=base, font=\lbl] at (305pt,6.5pt) {BJD - 2458932.0762683 [days]};
\end{tikzpicture}
\end{document}
